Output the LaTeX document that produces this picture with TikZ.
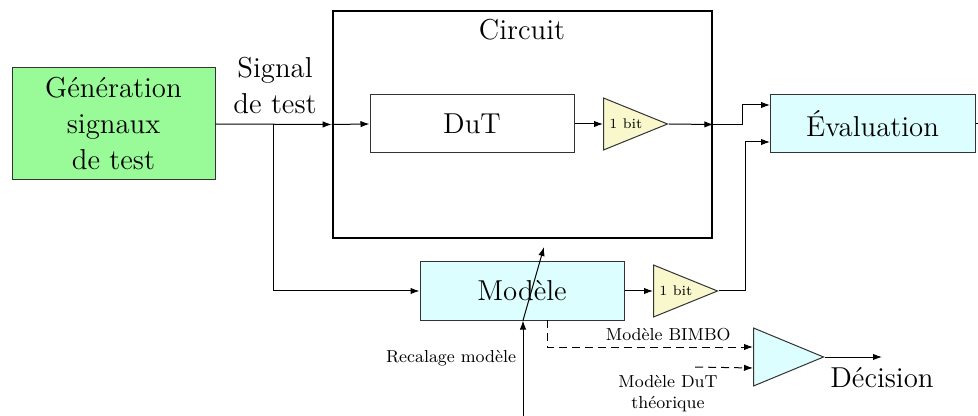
\documentclass[tikz,border=0pt]{standalone}
\usetikzlibrary{arrows.meta,shapes.geometric,calc}
\definecolor{gengreen}{RGB}{152,251,152}
\definecolor{boxcyan}{RGB}{221,254,254}
\definecolor{ampyellow}{RGB}{248,248,204}
\begin{document}
\begin{tikzpicture}[x=0.5pt,y=-0.5pt,
  >={Latex[length=4.5pt,width=3.2pt]},
  wire/.style={line width=0.5pt,->},
  dwire/.style={line width=0.5pt,->,dash pattern=on 4pt off 2.5pt},
  block/.style={draw=black!80,line width=0.5pt,rectangle,inner sep=0pt,align=center,font=\Large},
  amp/.style={draw=black!80,line width=0.5pt,isosceles triangle,isosceles triangle stretches,inner sep=0pt,anchor=west},
  small/.style={font=\fontsize{8.7}{10.5}\selectfont,inner sep=0pt,align=center}]
\useasboundingbox (0,0) rectangle (978,416);

% circuit frame
\node[draw=black,line width=1.3pt,minimum width=189.5pt,minimum height=113.5pt,inner sep=0pt] (circ) at (522.5,124.5) {};
\node[font=\Large,anchor=base,inner sep=0pt] (circlbl) at (522,40) {Circuit};

% blocks
\node[block,fill=gengreen,minimum width=101.5pt,minimum height=56pt] (gen) at (113.5,124) {G\'en\'eration\\signaux\\de test};
\node[font=\Large,align=center,anchor=south,inner sep=0pt] (sig) at (275,114) {Signal\\de test};
\node[block,fill=white,minimum width=102pt,minimum height=29pt] (dut) at (472,124) {DuT};
\node[block,fill=boxcyan,minimum width=102pt,minimum height=29pt] (mod) at (522,291) {Mod\`ele};
\node[block,fill=boxcyan,minimum width=102.5pt,minimum height=29pt] (eval) at (872.5,124) {\'Evaluation};

% comparators
\node[amp,fill=ampyellow,minimum width=26pt,minimum height=32pt] (t1) at (603,124) {};
\node[font=\scriptsize,anchor=west,inner sep=0pt,xshift=3pt] (t1lbl) at (t1.west) {1 bit};
\node[amp,fill=ampyellow,minimum width=26pt,minimum height=32pt] (t2) at (653,291) {};
\node[font=\scriptsize,anchor=west,inner sep=0pt,xshift=3pt] (t2lbl) at (t2.west) {1 bit};
\node[amp,fill=boxcyan,minimum width=29pt,minimum height=35pt] (cmp) at (753,357) {};

% labels
\node[small,anchor=base] (recal) at (451,362) {Recalage mod\`ele};
\node[small,anchor=base east] (bimbo) at (731,340) {Mod\`ele BIMBO};
\node[small,anchor=north] (dutth) at (668,375) {Mod\`ele DuT\\th\'eorique};
\node[font=\Large,anchor=base,inner sep=0pt] (dec) at (882,387) {D\'ecision};

% connection points
\coordinate (br) at (273,124);
\coordinate (rb) at (523,416);
\coordinate (adj) at (544,247);
\coordinate (bsrc) at (547,320);
\coordinate (cin1) at (753,347);
\coordinate (dsrc) at (695,367);
\coordinate (cin2) at (753,368);
\coordinate (ein1) at (770,105);
\coordinate (ein2) at (770,142);
\coordinate (dout) at (882,357);
\coordinate (eout) at (978,124);

% signal paths
\draw[wire] (gen.east) -- (circ.west);
\draw[wire] (br) |- (mod.west);
\draw[wire] (circ.west) -- (dut.west);
\draw[wire] (dut.east) -- (t1.west);
\draw[wire] (t1.east) -- (circ.east);
\draw[wire] (circ.east) -- ++(29,0) |- (ein1);
\draw[wire] (mod.east) -- (t2.west);
\draw[wire] (t2.east) -- ++(27,0) |- (ein2);
\draw[line width=0.5pt] (eval.east) -- (eout);

% model adjustment
\draw[wire] (rb) -- (rb |- mod.south);
\draw[wire] (rb |- mod.south) -- (adj);

% decision
\draw[dwire] (bsrc) |- (cin1);
\draw[dwire] (dsrc) -- (cin2);
\draw[wire] (cmp.east) -- (dout);
\end{tikzpicture}
\end{document}
